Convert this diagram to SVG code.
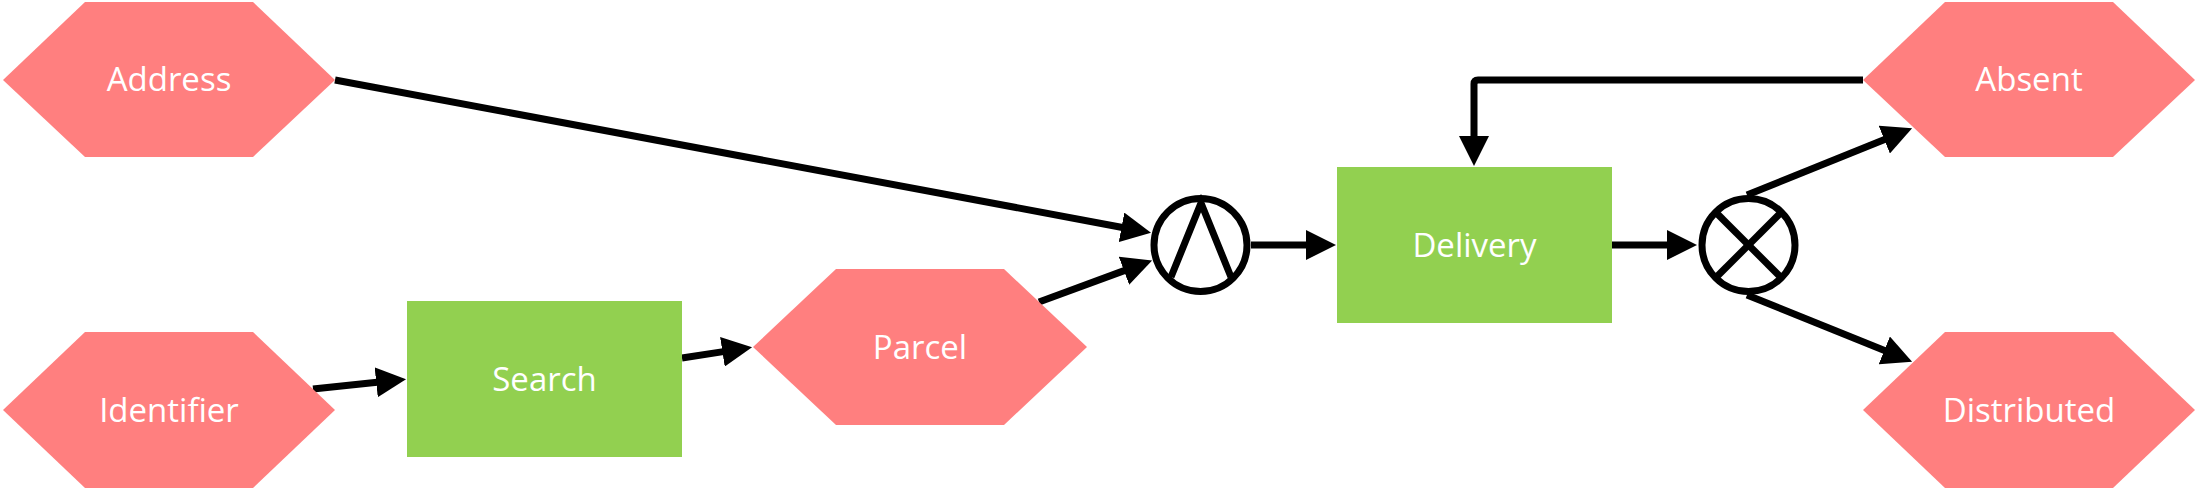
<svg xmlns="http://www.w3.org/2000/svg" width="2198" height="490" viewBox="0 0 2198 490">
<style>
.ev{fill:#FF7F7F;}
.fn{fill:#92D050;}
.lbl{font-family:"Open Sans","Noto Sans","Liberation Sans",sans-serif;font-size:33px;fill:#FFFFFF;text-anchor:middle;}
.cn{fill:none;stroke:#000;stroke-width:7;}
.gw{fill:#FFFFFF;stroke:#000;stroke-width:7;}
.sym{fill:none;stroke:#000;stroke-width:7;}
</style>
<defs>
<marker id="arr" markerUnits="userSpaceOnUse" viewBox="0 -15 30 30" markerWidth="30" markerHeight="30" refX="1" refY="0" orient="auto">
<path d="M0,-15 L30,0 L0,15 Z" fill="#000"/>
</marker>
</defs>
<rect width="2198" height="490" fill="#FFFFFF"/>
<g id="connectors">
<line class="cn" x1="335" y1="80" x2="1122.5" y2="227.5" marker-end="url(#arr)"/>
<line class="cn" x1="1039" y1="302" x2="1124.9" y2="270.4" marker-end="url(#arr)"/>
<line class="cn" x1="313" y1="389" x2="377.2" y2="382.2" marker-end="url(#arr)"/>
<line class="cn" x1="682" y1="358" x2="723.4" y2="351.6" marker-end="url(#arr)"/>
<line class="cn" x1="1251" y1="245" x2="1307" y2="245" marker-end="url(#arr)"/>
<line class="cn" x1="1612" y1="245" x2="1668" y2="245" marker-end="url(#arr)"/>
<line class="cn" x1="1747" y1="195" x2="1885.2" y2="139.2" marker-end="url(#arr)"/>
<line class="cn" x1="1747" y1="295" x2="1885.2" y2="350.8" marker-end="url(#arr)"/>
<path class="cn" d="M1863,80 L1478,80 Q1474,80 1474,84 L1474,137" marker-end="url(#arr)"/>
</g>
<g id="address">
<polygon class="ev" points="3,80 85,2 253,2 335,80 253,157 85,157"/>
<text class="lbl" x="169" y="91">Address</text>
</g>
<g id="identifier">
<polygon class="ev" points="3,410 85,332 253,332 335,410 253,488 85,488"/>
<text class="lbl" x="169" y="422">Identifier</text>
</g>
<g id="search">
<rect class="fn" x="407" y="301" width="275" height="156"/>
<text class="lbl" x="544.5" y="391">Search</text>
</g>
<g id="parcel">
<polygon class="ev" points="753,347 836,269 1004,269 1087,347 1004,425 836,425"/>
<text class="lbl" x="920" y="359">Parcel</text>
</g>
<g id="and-gateway">
<circle class="gw" cx="1200.5" cy="245" r="46.5"/>
<polyline class="sym" points="1171,277 1201,203 1231,277" stroke-linejoin="miter"/>
</g>
<g id="delivery">
<rect class="fn" x="1337" y="167" width="275" height="156"/>
<text class="lbl" x="1474.5" y="257">Delivery</text>
</g>
<g id="xor-gateway">
<circle class="gw" cx="1748.5" cy="245" r="46.5"/>
<line class="sym" x1="1716.5" y1="213" x2="1780.5" y2="277"/>
<line class="sym" x1="1780.5" y1="213" x2="1716.5" y2="277"/>
</g>
<g id="absent">
<polygon class="ev" points="1863,80 1945,2 2113,2 2195,80 2113,157 1945,157"/>
<text class="lbl" x="2029" y="91">Absent</text>
</g>
<g id="distributed">
<polygon class="ev" points="1863,410 1945,332 2113,332 2195,410 2113,488 1945,488"/>
<text class="lbl" x="2029" y="422">Distributed</text>
</g>
</svg>
